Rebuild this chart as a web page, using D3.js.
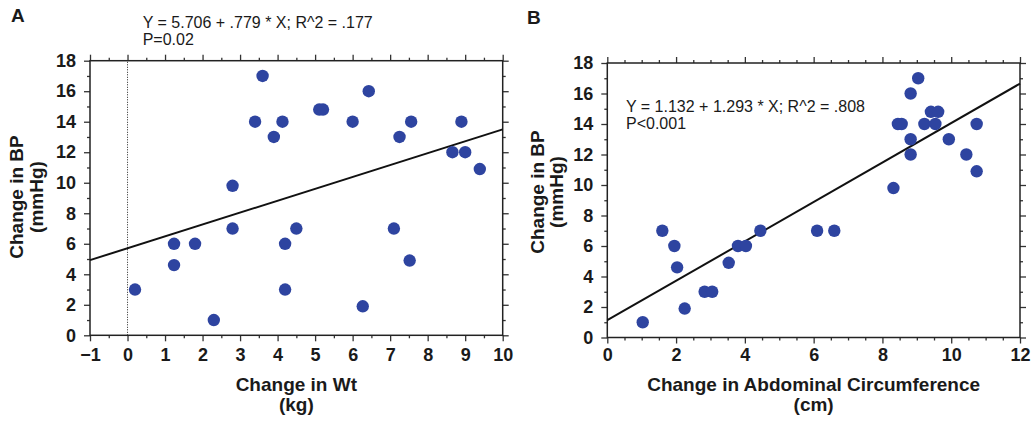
<!DOCTYPE html>
<html><head><meta charset="utf-8">
<script src="https://cdn.jsdelivr.net/npm/d3@7"></script>
<style>
body{margin:0;background:#fff}
svg{display:block}
text{font-family:"Liberation Sans",Arial,Helvetica,sans-serif;fill:#1a1a1a}
</style>
</head><body>
<svg id="c" width="1036" height="421"></svg>
<script>
// ---- Data ----
const wtChange = [0.2,1.24,1.24,1.8,2.3,2.8,2.8,3.6,3.4,3.9,4.13,4.2,4.2,4.5,5.11,5.21,6.0,6.27,6.43,7.1,7.25,7.52,7.56,8.66,8.9,9.0,9.39];
const bpA      = [3,6,4.6,6,1,9.8,7,17,14,13,14,6,3,7,14.8,14.8,14,1.9,16,7,13,4.9,14,12,14,12,10.9];
const abdChange = [1.03,1.6,1.95,2.03,2.25,2.83,3.05,3.53,3.8,4.03,4.45,6.1,6.6,8.32,8.45,8.56,8.82,8.82,8.82,9.04,9.22,9.41,9.62,9.54,9.93,10.44,10.74,10.74];
const bpB       = [1,7,6,4.6,1.9,3,3,4.9,6,6,7,7,7,9.8,14,14,16,13,12,17,14,14.8,14.8,14,13,12,14,10.9];
const regA = [5.706, 0.779];
const regB = [1.132, 1.293];
const eqA = ["Y = 5.706 + .779 * X; R^2 = .177", "P=0.02"];
const eqB = ["Y = 1.132 + 1.293 * X; R^2 = .808", "P<0.001"];
const xTicksA = [-1,0,1,2,3,4,5,6,7,8,9,10];
const xMinorA = d3.range(-0.5,10,1);
const xTicksB = [0,2,4,6,8,10,12];
const xMinorB = d3.range(0.5,12,0.5).filter(v=>v%2!==0);
const yTicks = [0,2,4,6,8,10,12,14,16,18];
const yMinor = [1,3,5,7,9,11,13,15,17];
const yTitle = ["Change in BP","(mmHg)"];
const xTitleA = ["Change in Wt","(kg)"];
const xTitleB = ["Change in Abdominal Circumference","(cm)"];

const svg = d3.select("#c");
const fmt = d => d < 0 ? "\u2212" + Math.abs(d) : String(d);

function panel(o){
  const x = d3.scaleLinear().domain(o.xDomain).range(o.xRange);
  const y = d3.scaleLinear().domain([0,18]).range(o.yRange);
  const g = svg.append("g");
  const [x0,x1] = o.xRange, [y0,y1] = o.yRange; // y0 bottom, y1 top

  function ax(gen, tr, vals, size, labels, pad){
    const a = g.append("g").attr("transform", tr)
      .call(gen.tickValues(vals).tickSize(size).tickSizeOuter(0).tickPadding(pad||3)
        .tickFormat(labels ? fmt : ""));
    a.select(".domain").remove();
    a.selectAll("line").attr("stroke","#333").attr("stroke-width",1.3);
    a.selectAll("text").style("font-size","18px").style("font-weight","bold").attr("fill","#1a1a1a");
    return a;
  }
  ax(d3.axisBottom(x), `translate(0,${y0})`, o.xMajor, 6, true, o.xPad);
  ax(d3.axisBottom(x), `translate(0,${y0})`, o.xMinor, 3, false);
  ax(d3.axisTop(x), `translate(0,${y1})`, o.xMajor, 6, false);
  ax(d3.axisTop(x), `translate(0,${y1})`, o.xMinor, 3, false);
  ax(d3.axisLeft(y), `translate(${x0},0)`, yTicks, 6, true, 8);
  ax(d3.axisLeft(y), `translate(${x0},0)`, yMinor, 3, false);
  ax(d3.axisRight(y), `translate(${x1},0)`, yTicks, 6, false);
  ax(d3.axisRight(y), `translate(${x1},0)`, yMinor, 3, false);

  g.append("rect").attr("x",x0).attr("y",y1).attr("width",x1-x0).attr("height",y0-y1)
    .attr("fill","none").attr("stroke","#222").attr("stroke-width",1.5);

  if (o.zeroLine){
    g.append("line").attr("x1",x(0)).attr("x2",x(0)).attr("y1",y0).attr("y2",y1)
      .attr("stroke","#222").attr("stroke-width",1).attr("stroke-dasharray","1,1.5");
  }
  const line = d3.line().x(d=>x(d)).y(d=>y(o.reg[0]+o.reg[1]*d));
  g.append("path").attr("d", line(o.xDomain)).attr("fill","none")
    .attr("stroke","#111").attr("stroke-width",2);

  g.selectAll("circle.pt").data(o.xs).join("circle").attr("class","pt")
    .attr("cx",(d)=>x(d)).attr("cy",(d,i)=>y(o.ys[i])).attr("r",6.2)
    .attr("fill","#2e44a0");

  // equation
  g.append("text").attr("x",o.eqPos[0]).attr("y",o.eqPos[1]).style("font-size","16px").text(o.eq[0]);
  g.append("text").attr("x",o.eqPos[0]).attr("y",o.eqPos[1]+17).style("font-size","16px").text(o.eq[1]);

  // x title
  o.xTitle.forEach((t,i)=>{
    g.append("text").attr("x",(x0+x1)/2).attr("y",o.xTitleY + i*19.5)
      .attr("text-anchor","middle").style("font-size","19px").style("font-weight","bold").text(t);
  });
  // y title
  o.yTitleX.forEach((bx,i)=>{
    g.append("text").attr("transform",`translate(${bx},${o.yTitleC}) rotate(-90)`)
      .attr("text-anchor","middle").style("font-size","19px").style("font-weight","bold").text(yTitle[i]);
  });
  // panel letter
  g.append("text").attr("x",o.letterPos[0]).attr("y",o.letterPos[1])
    .style("font-size","19px").style("font-weight","bold").text(o.letter);
}

panel({
  xDomain:[-1,10], xRange:[90,502.7], yRange:[335.3,60.7],
  xMajor:xTicksA, xMinor:xMinorA, xPad:7,
  xs:wtChange, ys:bpA, reg:regA, zeroLine:true,
  eq:eqA, eqPos:[142.7,28.3],
  xTitle:xTitleA, xTitleY:391,
  yTitleX:[23,43], yTitleC:197,
  letter:"A", letterPos:[11,22]
});
panel({
  xDomain:[0,12], xRange:[607.3,1020], yRange:[337.5,63],
  xMajor:xTicksB, xMinor:xMinorB, xPad:5,
  xs:abdChange, ys:bpB, reg:regB, zeroLine:false,
  eq:eqB, eqPos:[626,111.5],
  xTitle:xTitleB, xTitleY:391,
  yTitleX:[544,563], yTitleC:192,
  letter:"B", letterPos:[527,24]
});
</script>
</body></html>
